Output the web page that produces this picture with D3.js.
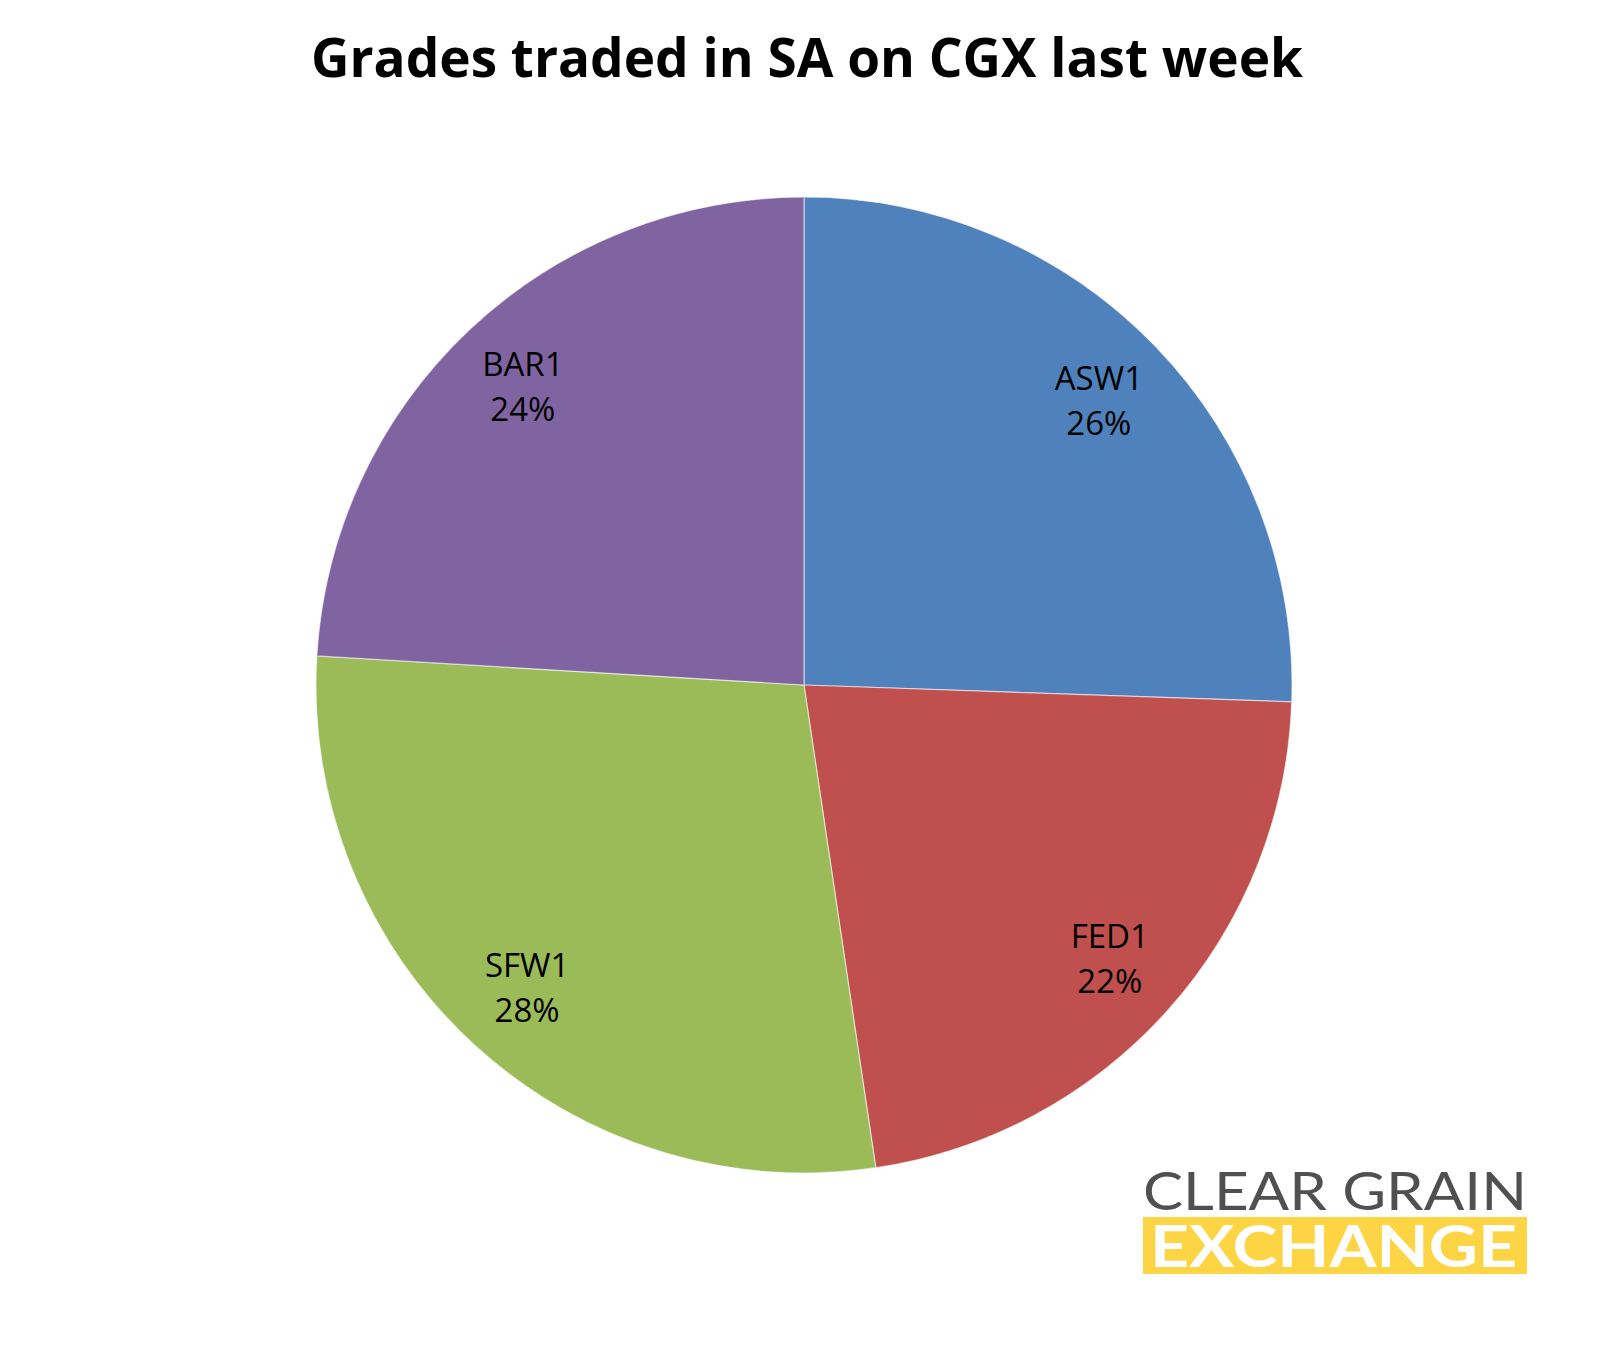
<!DOCTYPE html>
<html>
<head>
<meta charset="utf-8">
<script src="https://cdn.jsdelivr.net/npm/d3@7"></script>
<style>
  html, body { margin: 0; padding: 0; background: #ffffff; }
  svg { display: block; }
</style>
</head>
<body>
<svg id="chart" width="1609" height="1351"></svg>
<script>
// ---- data ----
const title = "Grades traded in SA on CGX last week";
const categories = ["ASW1", "FED1", "SFW1", "BAR1"];
const values = [25.55, 22.1, 28.3, 24.05];
const colors = ["#4F81BD", "#C0504D", "#9BBB59", "#8064A2"];
const logoTop = "CLEAR GRAIN";
const logoBottom = "EXCHANGE";

// ---- layout ----
const W = 1609, H = 1351;
const cx = 804, cy = 685, R = 488, labelR = 410;

const svg = d3.select("#chart");
svg.append("rect").attr("width", W).attr("height", H).attr("fill", "#fff");

// title
svg.append("text")
  .attr("x", 311).attr("y", 77)
  .attr("textLength", 992).attr("lengthAdjust", "spacingAndGlyphs")
  .attr("font-family", "'Open Sans', 'Noto Sans', sans-serif")
  .attr("font-weight", 700).attr("font-size", 54)
  .attr("fill", "#000")
  .text(title);

const data = categories.map((c, i) => ({ cat: c, value: values[i], color: colors[i] }));
const total = d3.sum(values);
const pie = d3.pie().sort(null).value(d => d.value).startAngle(0).endAngle(2 * Math.PI);
const arcs = pie(data);
const arc = d3.arc().innerRadius(0).outerRadius(R);
const labelArc = d3.arc().innerRadius(labelR).outerRadius(labelR);
const pct = d3.format(".0%");

const g = svg.append("g").attr("transform", `translate(${cx},${cy})`);
g.selectAll("path.slice")
  .data(arcs)
  .join("path")
  .attr("class", "slice")
  .attr("d", arc)
  .attr("fill", d => d.data.color)
  .attr("stroke", "rgba(255,255,255,0.55)")
  .attr("stroke-width", 1.2);

const lbl = g.selectAll("text.lbl")
  .data(arcs)
  .join("text")
  .attr("class", "lbl")
  .attr("text-anchor", "middle")
  .attr("font-family", "'Open Sans', 'Noto Sans', sans-serif")
  .attr("font-size", 33)
  .attr("fill", "#000")
  .attr("transform", d => { const [x, y] = labelArc.centroid(d); return `translate(${x},${y})`; });
lbl.append("tspan").attr("x", 0).attr("y", -10.5).text(d => d.data.cat);
lbl.append("tspan").attr("x", 0).attr("y", 34.5).text(d => pct(d.data.value / total));

// logo
const logo = svg.append("g");
logo.append("text")
  .attr("x", 1143).attr("y", 1210)
  .attr("textLength", 384).attr("lengthAdjust", "spacingAndGlyphs")
  .attr("font-family", "Lato, 'Open Sans', sans-serif")
  .attr("font-weight", 400).attr("font-size", 53)
  .attr("fill", "#505050")
  .text(logoTop);
logo.append("rect")
  .attr("x", 1143).attr("y", 1217).attr("width", 384).attr("height", 57)
  .attr("fill", "#FDD444");
logo.append("text")
  .attr("x", 1150).attr("y", 1267)
  .attr("textLength", 367).attr("lengthAdjust", "spacingAndGlyphs")
  .attr("font-family", "Lato, 'Open Sans', sans-serif")
  .attr("font-weight", 700).attr("font-size", 58)
  .attr("fill", "#fff")
  .text(logoBottom);
</script>
</body>
</html>
